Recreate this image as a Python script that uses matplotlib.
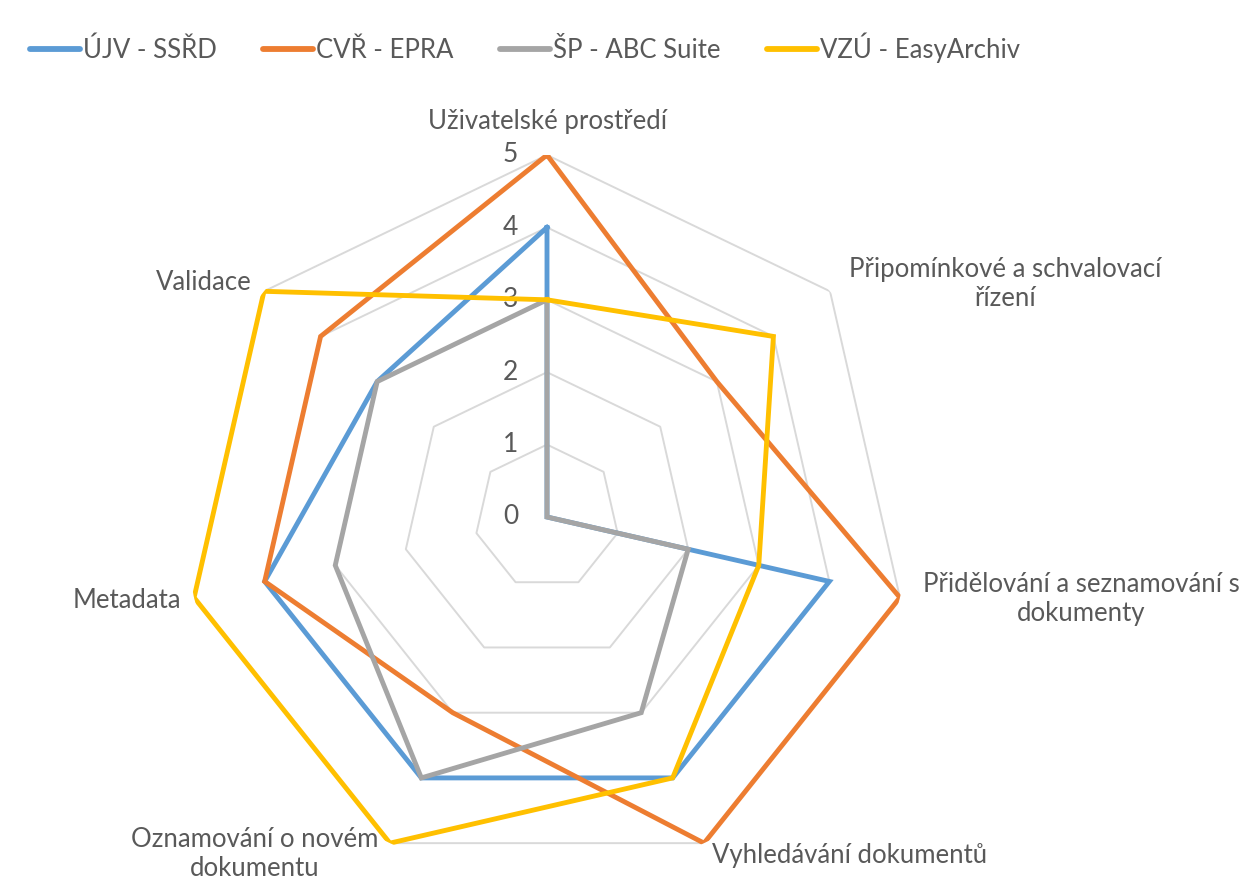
import numpy as np
import matplotlib.pyplot as plt
from matplotlib.transforms import offset_copy

# categories (clockwise from top)
categories = ['Uživatelské prostředí',
              'Připomínkové a schvalovací\nřízení',
              'Přidělování a seznamování s\ndokumenty',
              'Vyhledávání dokumentů',
              'Oznamování o novém\ndokumentu',
              'Metadata',
              'Validace']

series_names = ['ÚJV - SSŘD', 'CVŘ - EPRA', 'ŠP - ABC Suite', 'VZÚ - EasyArchiv']
ujv = [4, 0, 4, 4, 4, 4, 3]
cvr = [5, 3, 5, 5, 3, 4, 4]
sp = [3, 0, 2, 3, 4, 3, 3]
vzu = [3, 4, 3, 4, 5, 5, 5]
levels = [0, 1, 2, 3, 4, 5]

colors = ['#5B9BD5', '#ED7D31', '#A5A5A5', '#FFC000']
textcol = '#595959'
gridcol = '#D9D9D9'

plt.rcParams['font.family'] = ['Lato', 'DejaVu Sans']

W, H = 1250, 885
fig = plt.figure(figsize=(W/100, H/100), dpi=100)

def px(x, y):
    return x/W, 1 - y/H

# polar axes: centre at (547,517) px, radius 362 px for value 5
cx, cy, R = 547, 517, 362
ax = fig.add_axes([(cx-R)/W, 1-(cy+R)/H, 2*R/W, 2*R/H], projection='polar')
ax.set_theta_offset(np.pi/2)
ax.set_theta_direction(-1)
ax.set_ylim(0, 5)
ax.set_xticks([])
ax.set_yticks([])
ax.grid(False)
ax.spines['polar'].set_visible(False)

n = len(categories)
angles = np.linspace(0, 2*np.pi, n, endpoint=False)
closed = np.append(angles, angles[0])

# heptagon grid
for lv in levels[1:]:
    ax.plot(closed, [lv]*(n+1), color=gridcol, lw=1.4, zorder=1)

# radial labels left of the top axis
for lv in levels:
    tr = offset_copy(ax.transData, fig=fig, x=-29, y=0, units='dots')
    ax.text(0, lv, str(lv), transform=tr, ha='right', va='center',
            fontsize=19, color=textcol)

# series
for name, vals, c in zip(series_names, [ujv, cvr, sp, vzu], colors):
    ax.plot(closed, vals + vals[:1], color=c, lw=3.5, label=name,
            solid_joinstyle='miter', zorder=3)

# category labels
fs = 18.5
ls = 1.2
fig.text(*px(547, 122), categories[0], ha='center', va='center', fontsize=fs, color=textcol)
fig.text(*px(1005, 284), categories[1], ha='center', va='center', fontsize=fs, color=textcol,
         linespacing=ls)
fig.text(*px(1081, 599), categories[2], ha='center', va='center', fontsize=fs, color=textcol,
         linespacing=ls)
fig.text(*px(712, 855), categories[3], ha='left', va='center', fontsize=fs, color=textcol)
fig.text(*px(255, 854), categories[4], ha='center', va='center', fontsize=fs, color=textcol,
         linespacing=ls)
fig.text(*px(181, 600), categories[5], ha='right', va='center', fontsize=fs, color=textcol)
fig.text(*px(252, 282), categories[6], ha='right', va='center', fontsize=fs, color=textcol)

# legend
leg = fig.legend(loc='center left', bbox_to_anchor=px(30, 48), ncol=4, frameon=False,
                 fontsize=fs, handlelength=1.95, handletextpad=0.12, columnspacing=1.8,
                 borderpad=0, borderaxespad=0, labelcolor=textcol)
for h in leg.get_lines():
    h.set_linewidth(4.2)
    h.set_solid_capstyle('round')

fig.savefig('out.png', dpi=100)
